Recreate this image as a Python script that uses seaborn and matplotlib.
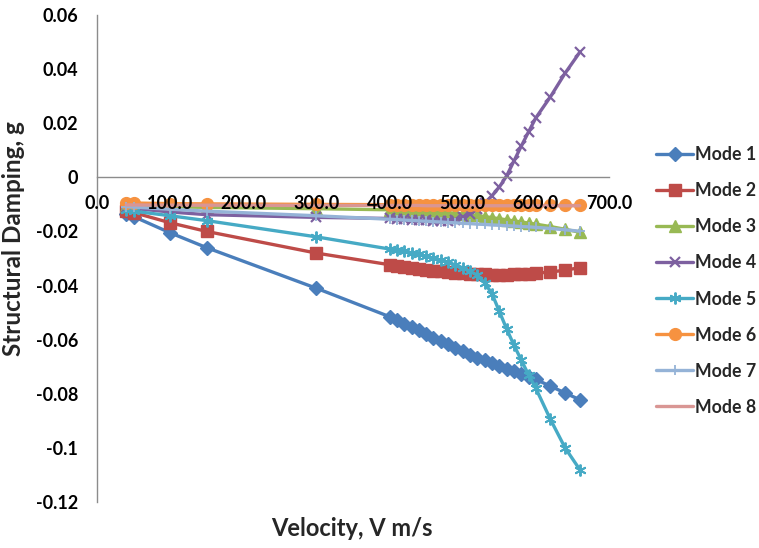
import matplotlib
matplotlib.use("Agg")
import matplotlib.pyplot as plt
import seaborn as sns

# Flutter sweep: structural damping of each mode against airspeed
velocity = [40, 50, 100, 150, 300,
            400, 410, 420, 430, 440, 450, 460, 470, 480, 490, 500,
            510, 520, 530, 540, 550, 560, 570, 580, 590, 600,
            620, 640, 660]

mode_1 = [-0.0135, -0.0145, -0.0205, -0.0260, -0.0410,
          -0.0515, -0.0528, -0.0541, -0.0554, -0.0566, -0.0579, -0.0592, -0.0604, -0.0617, -0.0630, -0.0642,
          -0.0655, -0.0667, -0.0677, -0.0687, -0.0697, -0.0707, -0.0717, -0.0727, -0.0737, -0.0747,
          -0.0772, -0.0797, -0.0822]
mode_2 = [-0.0125, -0.0130, -0.0168, -0.0200, -0.0280,
          -0.0323, -0.0328, -0.0332, -0.0336, -0.0339, -0.0342, -0.0345, -0.0348, -0.0350, -0.0352, -0.0354,
          -0.0356, -0.0358, -0.0359, -0.0360, -0.0360, -0.0360, -0.0359, -0.0358, -0.0356, -0.0354,
          -0.0350, -0.0343, -0.0334]
mode_3 = [-0.0105, -0.0106, -0.0109, -0.0111, -0.0116,
          -0.0120, -0.0121, -0.0122, -0.0123, -0.0124, -0.0125, -0.0127, -0.0129, -0.0131, -0.0133, -0.0135,
          -0.0138, -0.0141, -0.0145, -0.0149, -0.0153, -0.0157, -0.0161, -0.0165, -0.0169, -0.0173,
          -0.0182, -0.0192, -0.0203]
mode_4 = [-0.0112, -0.0115, -0.0128, -0.0138, -0.0148,
          -0.0152, -0.0153, -0.0155, -0.0156, -0.0158, -0.0159, -0.0160, -0.0161, -0.0160, -0.0156, -0.0148,
          -0.0135, -0.0117, -0.0095, -0.0068, -0.0036, 0.0005, 0.0060, 0.0115, 0.0168, 0.0220,
          0.0298, 0.0385, 0.0462]
mode_5 = [-0.0120, -0.0125, -0.0142, -0.0160, -0.0220,
          -0.0265, -0.0269, -0.0274, -0.0279, -0.0285, -0.0292, -0.0299, -0.0306, -0.0314, -0.0324, -0.0335,
          -0.0347, -0.0362, -0.0390, -0.0430, -0.0495, -0.0560, -0.0620, -0.0675, -0.0730, -0.0780,
          -0.0895, -0.1000, -0.1080]
mode_6 = [-0.0095, -0.0095, -0.0097, -0.0098, -0.0100,
          -0.0101, -0.0101, -0.0101, -0.0102, -0.0102, -0.0102, -0.0102, -0.0102, -0.0103, -0.0103, -0.0103,
          -0.0103, -0.0103, -0.0103, -0.0103, -0.0104, -0.0104, -0.0104, -0.0104, -0.0104, -0.0104,
          -0.0104, -0.0104, -0.0104]
mode_7 = [-0.0108, -0.0110, -0.0118, -0.0125, -0.0142,
          -0.0155, -0.0156, -0.0158, -0.0159, -0.0161, -0.0162, -0.0164, -0.0165, -0.0167, -0.0168, -0.0170,
          -0.0171, -0.0173, -0.0174, -0.0176, -0.0177, -0.0179, -0.0180, -0.0182, -0.0183, -0.0185,
          -0.0189, -0.0194, -0.0199]
mode_8 = [-0.0102, -0.0102, -0.0103, -0.0103, -0.0104,
          -0.0104, -0.0104, -0.0104, -0.0104, -0.0104, -0.0105, -0.0105, -0.0105, -0.0105, -0.0105, -0.0105,
          -0.0105, -0.0105, -0.0105, -0.0105, -0.0105, -0.0105, -0.0105, -0.0105, -0.0105, -0.0105,
          -0.0105, -0.0105, -0.0105]

mode_labels = ["Mode 1", "Mode 2", "Mode 3", "Mode 4", "Mode 5", "Mode 6", "Mode 7", "Mode 8"]
x_ticks = [0, 100, 200, 300, 400, 500, 600, 700]
x_tick_labels = ["0.0", "100.0", "200.0", "300.0", "400.0", "500.0", "600.0", "700.0"]
y_ticks = [0.06, 0.04, 0.02, 0.0, -0.02, -0.04, -0.06, -0.08, -0.1, -0.12]
y_tick_labels = ["0.06", "0.04", "0.02", "0", "-0.02", "-0.04", "-0.06", "-0.08", "-0.1", "-0.12"]

sns.set_style("white")
plt.rcParams["font.family"] = ["Lato", "DejaVu Sans"]
plt.rcParams["font.weight"] = "bold"

fig = plt.figure(figsize=(7.59, 5.48), dpi=100)
ax = fig.add_axes([97 / 759, 1 - 502 / 548, 512 / 759, 487 / 548])

series = [mode_1, mode_2, mode_3, mode_4, mode_5, mode_6, mode_7, mode_8]
styles = [
    dict(color="#4A7EBB", marker="D", markersize=7.0, markeredgewidth=1.0),
    dict(color="#BE4B48", marker="s", markersize=8.0, markeredgewidth=1.0),
    dict(color="#98B954", marker="^", markersize=8.0, markeredgewidth=1.0),
    dict(color="#7D60A0", marker="x", markersize=7.5, markeredgewidth=1.6),
    dict(color="#46AAC5", marker=(6, 2, 0), markersize=8.5, markeredgewidth=1.4),
    dict(color="#F69240", marker="o", markersize=8.5, markeredgewidth=1.0),
    dict(color="#95B3D7", marker="+", markersize=7.0, markeredgewidth=1.3),
    dict(color="#D99694", marker=None),
]

for label, values, st in zip(mode_labels, series, styles):
    kw = dict(st)
    if kw.get("marker") is not None:
        kw["markeredgecolor"] = kw["color"]
        kw["markerfacecolor"] = kw["color"]
    sns.lineplot(x=velocity, y=values, ax=ax, label=label, sort=False,
                 linewidth=2.4, **kw)

handles, labels = ax.get_legend_handles_labels()
ax.get_legend().remove()

ax.set_xlim(0, 700)
ax.set_ylim(-0.12, 0.06)
ax.set_xticks(x_ticks)
ax.set_xticklabels(x_tick_labels)
ax.set_yticks(y_ticks)
ax.set_yticklabels(y_tick_labels)
ax.set_xlabel("")
ax.set_ylabel("")

for side in ("top", "right"):
    ax.spines[side].set_visible(False)
ax.spines["left"].set_color("#8C8C8C")
ax.spines["left"].set_linewidth(1.0)
ax.spines["bottom"].set_position(("data", 0))
ax.spines["bottom"].set_color("#8C8C8C")
ax.spines["bottom"].set_linewidth(1.0)
ax.set_axisbelow(False)

ax.tick_params(axis="x", length=0, pad=13, labelsize=13, labelcolor="black")
ax.tick_params(axis="y", length=0, pad=13.5, labelsize=13, labelcolor="black")
for t in ax.get_xticklabels() + ax.get_yticklabels():
    t.set_fontweight("bold")

fig.text(14 / 759, 1 - 239 / 548, "Structural Damping, g", rotation=90,
         ha="center", va="center", fontsize=17.5, fontweight="bold")
fig.text(352 / 759, 1 - 528 / 548, "Velocity, V m/s",
         ha="center", va="center", fontsize=17, fontweight="bold")

fig.legend(handles, labels, loc="center left", bbox_to_anchor=(656 / 759, 1 - 281 / 548),
           frameon=False, handlelength=2.1, handletextpad=0.12,
           labelspacing=1.07, borderaxespad=0, borderpad=0,
           prop={"weight": "bold", "size": 12.8})

fig.savefig("out.png", dpi=100)
